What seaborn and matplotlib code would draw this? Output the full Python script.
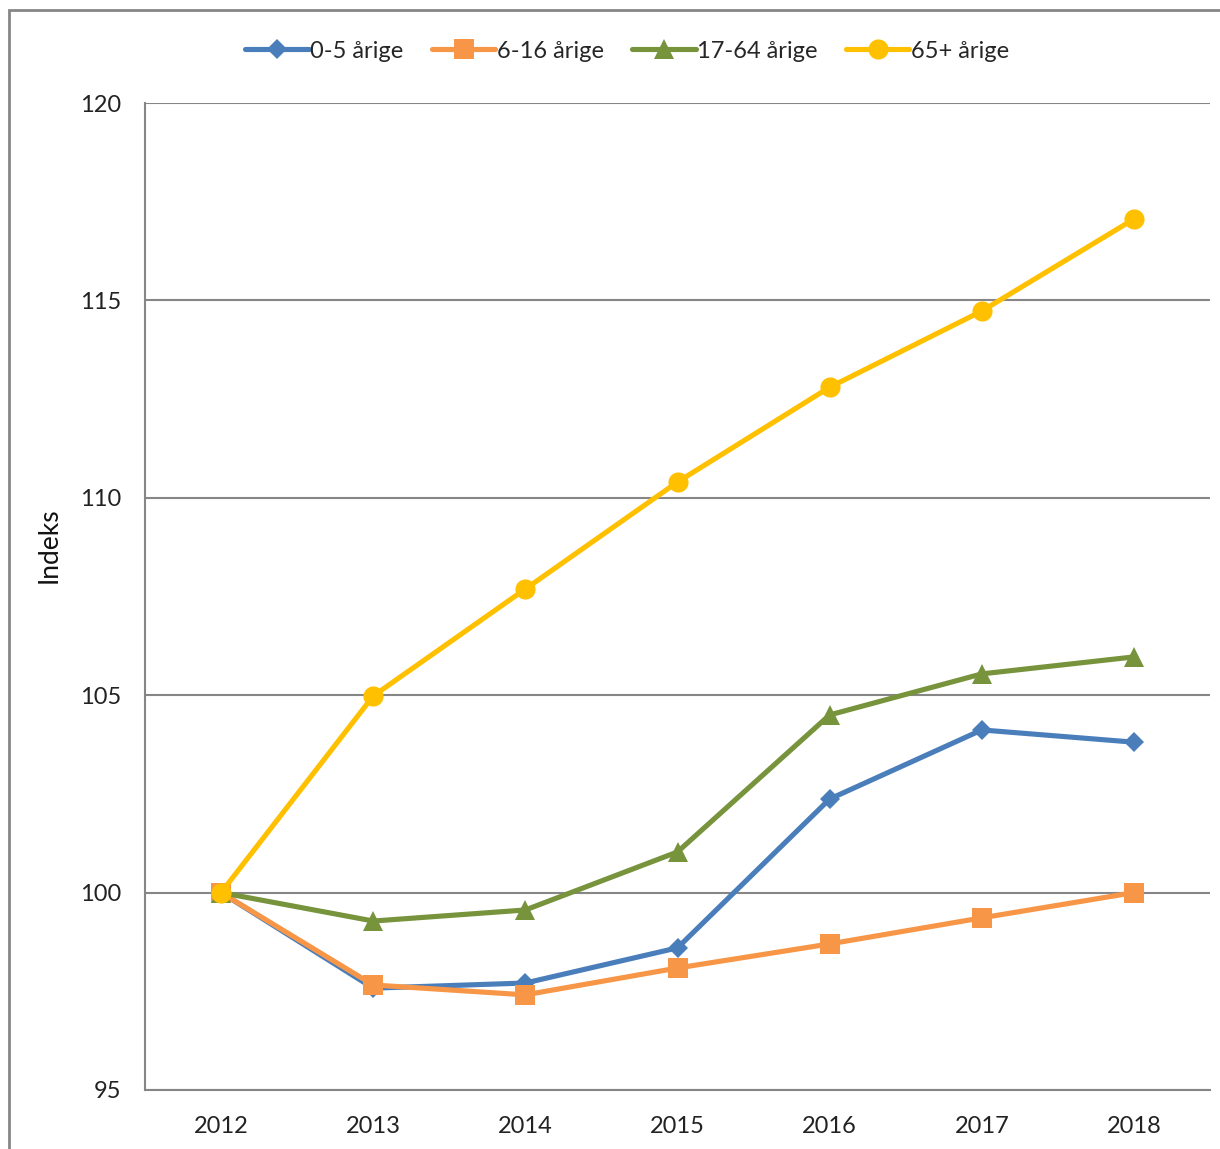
import matplotlib
matplotlib.use('Agg')
import matplotlib.pyplot as plt
from matplotlib.patches import Rectangle
from matplotlib.ticker import FixedLocator
import seaborn as sns
import pandas as pd

years = ['2012', '2013', '2014', '2015', '2016', '2017', '2018']
serie_navne = ['0-5 årige', '6-16 årige', '17-64 årige', '65+ årige']
v_0_5 = [100.0, 97.58, 97.71, 98.6, 102.37, 104.12, 103.81]
v_6_16 = [100.0, 97.66, 97.41, 98.09, 98.70, 99.36, 100.0]
v_17_64 = [100.0, 99.28, 99.56, 101.03, 104.5, 105.54, 105.97]
v_65 = [100.0, 104.98, 107.69, 110.4, 112.8, 114.73, 117.06]

farver = ['#4A7EBB', '#F79646', '#77933C', '#FFC000']
markoerer = ['D', 's', '^', 'o']
mstr = [10.5, 15, 14, 14.5]

sns.set_style('white')
plt.rcParams['font.family'] = ['Lato', 'DejaVu Sans']

fig = plt.figure(figsize=(12.2, 11.49), dpi=100)
ax = fig.add_axes([145/1220, 1 - 1090/1149, (1210 - 145)/1220, (1090 - 103)/1149])

pos = list(range(len(years)))
for navn, vals, c, m, ms in zip(serie_navne, [v_0_5, v_6_16, v_17_64, v_65], farver, markoerer, mstr):
    df = pd.DataFrame({'pos': pos, 'indeks': vals})
    sns.lineplot(data=df, x='pos', y='indeks', ax=ax, color=c, marker=m, markersize=ms,
                 markeredgecolor=c, markeredgewidth=0, linewidth=3.7, label=navn, zorder=3)

ax.set_xlim(-0.5, 6.5)
ax.set_ylim(95, 120)
ax.set_yticks([95, 100, 105, 110, 115, 120])
ax.set_xticks(pos)
ax.set_xticklabels(years)
ax.xaxis.set_minor_locator(FixedLocator([i - 0.5 for i in range(len(years) + 1)]))
ax.tick_params(axis='x', which='major', length=0, labelsize=17, pad=19, colors='#222222')
ax.tick_params(axis='x', which='minor', length=5, width=1.5, color='#868686', direction='out')
ax.tick_params(axis='y', length=6, width=1.5, color='#868686', direction='out', labelsize=17, pad=11,
               labelcolor='#222222')
ax.grid(axis='y', color='#868686', linewidth=1.5)
ax.set_axisbelow(True)
for s in ['top', 'right']:
    ax.spines[s].set_visible(False)
for s in ['left', 'bottom']:
    ax.spines[s].set_color('#868686')
    ax.spines[s].set_linewidth(1.5)
ax.set_xlabel('')
ax.set_ylabel('Indeks', fontsize=19, color='#111111')
ax.yaxis.set_label_coords(-0.078, 0.552)

ax.legend(loc='center', bbox_to_anchor=((627 - 145)/1065, 1 + 52/987), ncol=4, frameon=False, fontsize=17,
          handlelength=2.7, handletextpad=0.05, columnspacing=1.2)

fig.patches.append(Rectangle((9/1220, -0.1), 1.2, 1.1 - 10/1149, transform=fig.transFigure,
                             fill=False, edgecolor='#868686', linewidth=2))

fig.savefig('out.png', dpi=100)
